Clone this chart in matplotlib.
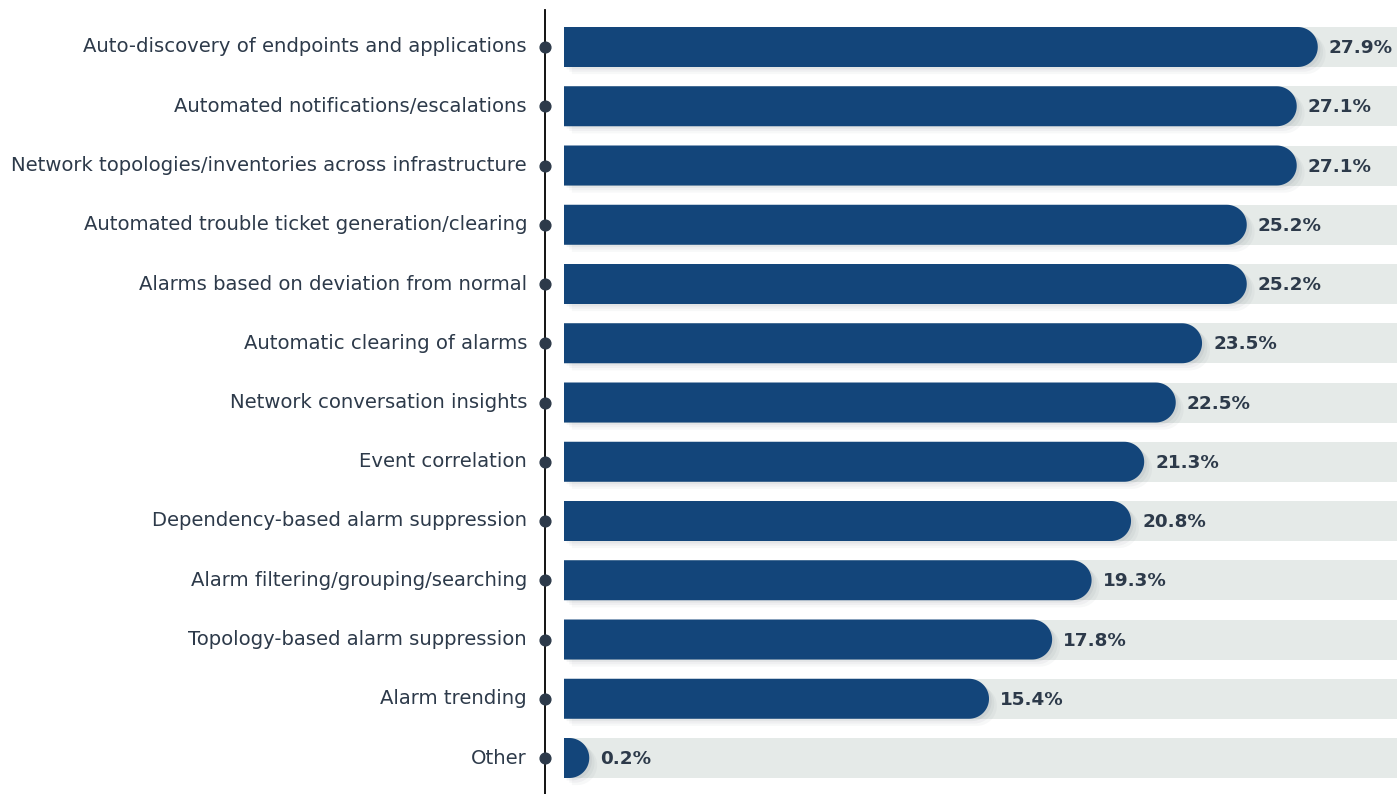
import numpy as np
import matplotlib
matplotlib.use("Agg")
import matplotlib.pyplot as plt
from matplotlib.patches import Polygon, Rectangle

features = [
    "Auto-discovery of endpoints and applications",
    "Automated notifications/escalations",
    "Network topologies/inventories across infrastructure",
    "Automated trouble ticket generation/clearing",
    "Alarms based on deviation from normal",
    "Automatic clearing of alarms",
    "Network conversation insights",
    "Event correlation",
    "Dependency-based alarm suppression",
    "Alarm filtering/grouping/searching",
    "Topology-based alarm suppression",
    "Alarm trending",
    "Other",
]
shares = [27.9, 27.1, 27.1, 25.2, 25.2, 23.5, 22.5, 21.3, 20.8, 19.3, 17.8, 15.4, 0.2]

BAR = "#13457a"
TRACK = "#e5eae8"
TEXT = "#2d3a4a"

W, H = 1397, 794
fig = plt.figure(figsize=(W / 100, H / 100), dpi=100)
fig.patch.set_facecolor("white")

px_per_pct = 26.3
ax_left = 545
x_min = -(564 - ax_left) / px_per_pct
x_max = x_min + (W - ax_left) / px_per_pct

row_px = 59.25
n = len(features)
# rows centred at 47 + i*row_px pixels from the top
y_top = -47 / row_px
y_bot = y_top + H / row_px
ax = fig.add_axes([ax_left / W, 0, 1 - ax_left / W, 1])
ax.set_xlim(x_min, x_max)
ax.set_ylim(y_bot, y_top)
ax.axis("off")

bar_h = 40 / row_px
rx = 20 / px_per_pct
ry = bar_h / 2
t = np.linspace(-np.pi / 2, np.pi / 2, 40)


def capsule(v, y, dx=0.0, dy=0.0):
    pts = [(0 + dx, y - ry + dy), (v + dx, y - ry + dy)]
    pts += [(v + dx + rx * np.cos(a), y + dy + ry * np.sin(a)) for a in t]
    pts += [(0 + dx, y + ry + dy)]
    return pts


for i, (name, v) in enumerate(zip(features, shares)):
    ax.add_patch(Rectangle((0, i - ry), 60, bar_h, facecolor=TRACK,
                           edgecolor="none", zorder=1))
    # soft shadow under the bar
    for k, a in enumerate([0.05, 0.04, 0.03]):
        ax.add_patch(Polygon(capsule(v, i, dx=0.1 * (k + 1), dy=0.04 * (k + 1)),
                             closed=True, facecolor="#1a2a3a", alpha=a,
                             edgecolor="none", zorder=2))
    ax.add_patch(Polygon(capsule(v, i), closed=True, facecolor=BAR,
                         edgecolor="none", zorder=3))
    ax.text(v + rx + 11 / px_per_pct, i + 0.02, f"{v}%", va="center", ha="left",
            fontsize=13.2, fontweight="bold", color=TEXT, family="DejaVu Sans",
            zorder=4)
    ax.text(x_min - 18 / px_per_pct, i, name, va="center", ha="right",
            fontsize=14.1, color=TEXT, family="DejaVu Sans", clip_on=False)

# axis line with row markers
ax.plot([x_min, x_min], [y_top + 10 / row_px, y_bot], color="black", lw=1.3,
        clip_on=False, zorder=5)
ax.scatter([x_min] * n, range(n), s=60, color=TEXT, zorder=6, clip_on=False)

fig.savefig("out.png", dpi=100)
